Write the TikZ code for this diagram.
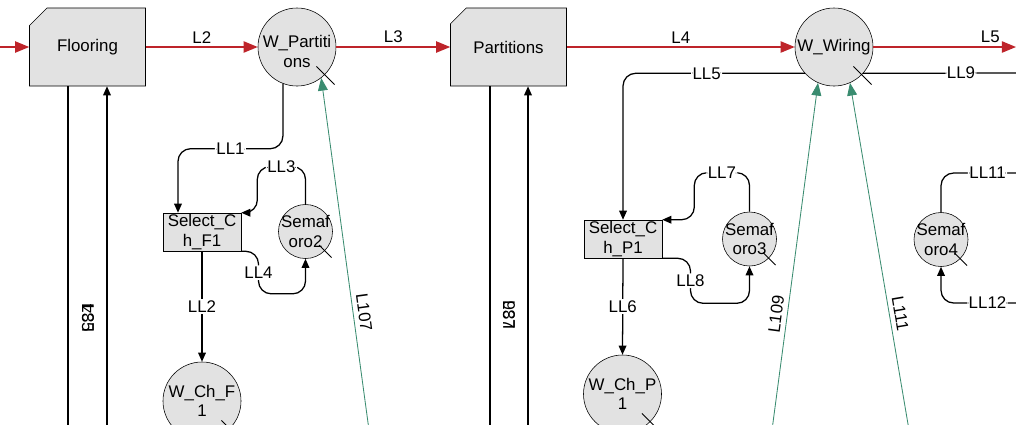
\documentclass[tikz,border=0pt]{standalone}
\usepackage{fontspec}
\setmainfont{Liberation Sans}
\usepackage{xcolor}
\usepackage{tikz}
\usetikzlibrary{positioning,arrows.meta,shapes.misc,calc}

\definecolor{boxgray}{RGB}{226,226,226}
\definecolor{flowred}{RGB}{190,36,42}
\definecolor{arcgreen}{RGB}{58,140,112}

\begin{document}
\begin{tikzpicture}[
    x=0.025cm, y=-0.025cm,
    font=\fontsize{12}{14}\selectfont,
    >={Triangle[length=6.5pt,width=5.5pt]},
    stage/.style={draw, chamfered rectangle, chamfered rectangle corners=north west,
      chamfered rectangle xsep=0.45cm, fill=boxgray, minimum width=2.9cm, minimum height=1.95cm},
    place/.style={draw, circle, fill=boxgray, minimum size=1.95cm, inner sep=0pt},
    sema/.style={draw, circle, fill=boxgray, minimum size=1.35cm, inner sep=0pt},
    selbox/.style={draw, rectangle, fill=boxgray, minimum width=1.95cm, minimum height=0.95cm, inner sep=0pt, align=center},
    ptext/.style={align=center, inner sep=0pt},
    flow/.style={color=flowred, line width=1pt, -{Triangle[length=10pt,width=8pt]}},
    link/.style={draw, line width=0.9pt, rounded corners=9pt},
    arc/.style={color=arcgreen, line width=0.6pt, -{Triangle[length=9pt,width=7pt]}},
    lab/.style={fill=white, inner sep=1pt, text=black},
    tick/.style={line width=0.6pt}
  ]
    \useasboundingbox (0,0) rectangle (1016,424);
    \clip (0,0) rectangle (1016,424);

    % Ligne du haut : flux principal
    \node[stage] (floor) at (87.5,47) {Flooring};
    \node[place, label={[ptext, yshift=-3pt]center:W\_Partiti\\ons}] (wpart) at (297,47) {};
    \node[stage] (part) at (508.5,47) {Partitions};
    \node[place, label={[ptext]center:W\_Wiring}] (wwire) at (834,47) {};

    % Bloc Flooring : choix et semaphore
    \node[selbox] (self) at (202,232) {Select\_C\\h\_F1};
    \node[sema, label={[ptext]center:Semaf\\oro2}] (sem2) at (305.5,231.5) {};
    \node[place, label={[ptext]center:W\_Ch\_F\\1}] (wchf) at (202,401) {};

    % Bloc Partitions : choix et semaphore
    \node[selbox] (selp) at (623,239) {Select\_C\\h\_P1};
    \node[sema, label={[ptext]center:Semaf\\oro3}] (sem3) at (749.5,239) {};
    \node[place, label={[ptext]center:W\_Ch\_P\\1}] (wchp) at (622.5,394) {};

    % Semaphore de droite
    \node[sema, label={[ptext]center:Semaf\\oro4}] (sem4) at (941,239.5) {};

    % Bords de la figure
    \coordinate (in0) at (0,47);
    \coordinate (out5) at (1016,47);
    \coordinate (out9) at (1016,73);
    \coordinate (out11) at (1016,173);
    \coordinate (in12) at (1016,303);
    \coordinate (f34) at (68,430);
    \coordinate (f35) at (107,430);
    \coordinate (p36) at (490,430);
    \coordinate (p37) at (528,430);
    \coordinate (g107) at (369,430);
    \coordinate (g109) at (772,430);
    \coordinate (g111) at (909,430);

    % Fleches rouges
    \draw[flow] (in0) -- (floor.west);
    \draw[flow] (floor.east) -- node[above=-1pt, text=black] {L2} (wpart.west);
    \draw[flow] (wpart.east) -- node[above=-1pt, text=black] {L3} (part.west);
    \draw[flow] (part.east) -- node[above=-1pt, text=black] {L4} (wwire.west);
    \draw[flow] (wwire.east) -- node[above=-1pt, pos=0.82, text=black] {L5} (out5);

    % Retours sous les blocs
    \draw[link] (f34 |- floor.south) -- (f34);
    \draw[link, ->] (f35) -- (f35 |- floor.south);
    \node[rotate=90] (l34) at (88,318) {L34};
    \node[rotate=-90] (l35) at (88,318) {L35};
    \draw[link] (p36 |- part.south) -- (p36);
    \draw[link, ->] (p37) -- (p37 |- part.south);
    \node[rotate=90] (l36) at (509,315) {L36};
    \node[rotate=-90] (l37) at (509,315) {L37};

    % Fleches noires (Flooring)
    \draw[link, ->] (wpart.249) |- node[lab, pos=0.75] {LL1} ([xshift=-0.6cm, yshift=1.6cm]self.north) -- ([xshift=-0.6cm]self.north);
    \draw[link, ->] (sem2.north) |- node[lab, pos=0.75] {LL3} ([xshift=0.4cm, yshift=1.15cm]self.north east) |- (self.north east);
    \draw[link, ->] (self.south east) -| node[lab, pos=0.75] {LL4} ([xshift=-1.175cm, yshift=-0.875cm]sem2.south) -| (sem2.south);
    \draw[link, ->] (self.south) -- node[lab] {LL2} (wchf.north);

    % Fleches noires (Partitions)
    \draw[link, ->] (wwire.222) -| node[lab, pos=0.27] {LL5} (selp.north);
    \draw[link] (wwire.-42) -- node[lab, pos=0.64] {LL9} (out9);
    \draw[link, ->] (sem3.north) |- node[lab, pos=0.75] {LL7} ([xshift=0.8cm, yshift=1.175cm]selp.north east) |- (selp.north east);
    \draw[link, ->] (selp.south east) -| node[lab, pos=0.75] {LL8} ([xshift=-1.475cm, yshift=-0.925cm]sem3.south) -| (sem3.south);
    \draw[link, ->] (selp.south) -- node[lab] {LL6} (wchp.north);

    % Semaforo4
    \draw[link] (sem4.north) |- node[lab, pos=0.81] {LL11} (out11);
    \draw[link, ->] (in12) -| node[lab, pos=0.19] {LL12} (sem4.south);

    % Fleches vertes
    \draw[arc] (g107) -- node[pos=0.33, sloped, above, text=black] {L107} (wpart.-52);
    \draw[arc] (g109) -- node[pos=0.33, sloped, above, text=black] {L109} (wwire.246);
    \draw[arc] (g111) -- node[pos=0.33, sloped, above, text=black] {L111} (wwire.294);

    % Petits traits sur les places
    \foreach \n in {wpart,wwire,sem2,sem3,sem4,wchf,wchp}
      \draw[tick] ($(\n.center)!0.7!(\n.-45)$) -- ($(\n.center)!1.35!(\n.-45)$);
  \end{tikzpicture}
\end{document}
